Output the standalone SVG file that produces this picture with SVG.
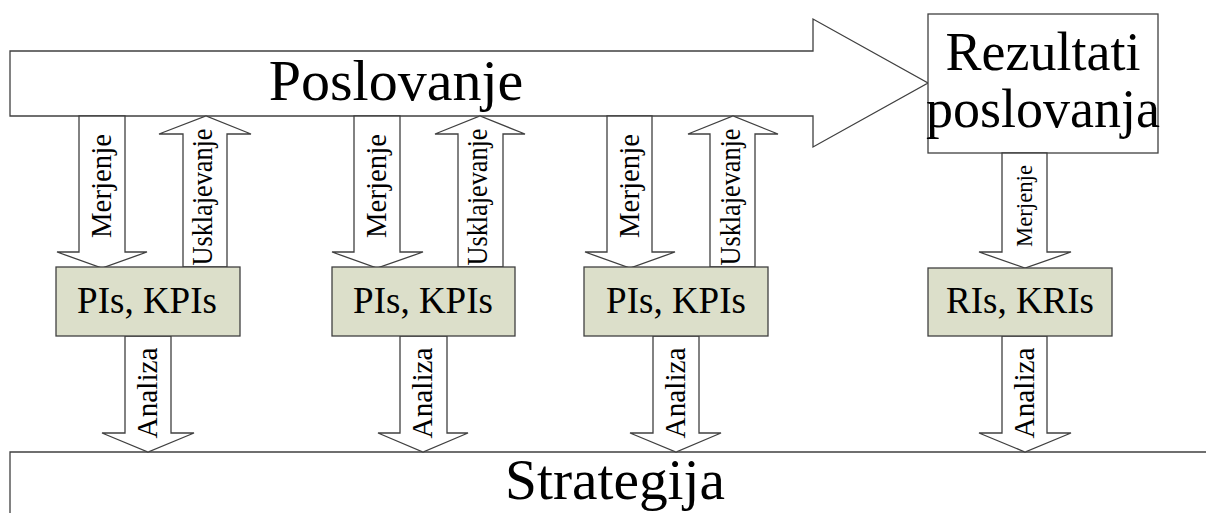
<svg xmlns="http://www.w3.org/2000/svg" width="1206" height="513" viewBox="0 0 1206 513">
<style>
.sh{fill:#fff;stroke:#404040;stroke-width:1.3;stroke-linejoin:miter}
.box{fill:#dcdfca;stroke:#404040;stroke-width:1.3}
.t{font-family:"Liberation Serif","Times New Roman",serif;fill:#000;text-anchor:middle}
</style>
<rect width="1206" height="513" fill="#fff"/>
<g id="strategija">
<path class="sh" d="M10,514 V452 H1210 V514"/>
<text class="t" x="615" y="499" font-size="56" textLength="220" lengthAdjust="spacingAndGlyphs">Strategija</text>
</g>
<g id="poslovanje">
<path class="sh" d="M10,51 H813 V19 L928,83 L813,147 V116 H10 Z"/>
<text class="t" x="396" y="100" font-size="58">Poslovanje</text>
</g>
<g id="rezultati">
<rect class="sh" x="928" y="14" width="230" height="139"/>
<text class="t" x="1043" y="70" font-size="54">Rezultati</text>
<text class="t" x="1043" y="127" font-size="54">poslovanja</text>
</g>
<g id="connectors">
<path class="sh" d="M79,116 V252 H57 L102,268 L147,252 H125 V116 Z"/>
<path class="sh" d="M183,267 V134 H159 L206,116 L251,134 H227 V267 Z"/>
<path class="sh" d="M354,116 V252 H332 L377,268 L423,252 H400 V116 Z"/>
<path class="sh" d="M458,267 V134 H435 L480,116 L525,134 H503 V267 Z"/>
<path class="sh" d="M607,116 V252 H585 L630,268 L675,252 H652 V116 Z"/>
<path class="sh" d="M710,267 V134 H688 L733,116 L778,134 H755 V267 Z"/>
<path class="sh" d="M1002,153 V252 H979 L1025,268 L1071,252 H1047 V153 Z"/>
<path class="sh" d="M125,336 V433 H102 L148,452 L194,433 H171 V336 Z"/>
<path class="sh" d="M400,336 V433 H378 L423,452 L468,433 H447 V336 Z"/>
<path class="sh" d="M653,336 V433 H630 L676,452 L721,433 H699 V336 Z"/>
<path class="sh" d="M1002,336 V433 H979 L1025,452 L1071,433 H1047 V336 Z"/>
<g class="t">
<text transform="translate(111,186) rotate(-90)" font-size="29" textLength="104" lengthAdjust="spacingAndGlyphs">Merjenje</text>
<text transform="translate(386,186) rotate(-90)" font-size="29" textLength="104" lengthAdjust="spacingAndGlyphs">Merjenje</text>
<text transform="translate(639,186) rotate(-90)" font-size="29" textLength="104" lengthAdjust="spacingAndGlyphs">Merjenje</text>
<text transform="translate(212,197) rotate(-90)" font-size="29" textLength="137" lengthAdjust="spacingAndGlyphs">Usklajevanje</text>
<text transform="translate(487,197) rotate(-90)" font-size="29" textLength="137" lengthAdjust="spacingAndGlyphs">Usklajevanje</text>
<text transform="translate(740,197) rotate(-90)" font-size="29" textLength="137" lengthAdjust="spacingAndGlyphs">Usklajevanje</text>
<text transform="translate(1032,206) rotate(-90)" font-size="23" textLength="82" lengthAdjust="spacingAndGlyphs">Merjenje</text>
<text transform="translate(157,393) rotate(-90)" font-size="30" textLength="91" lengthAdjust="spacingAndGlyphs">Analiza</text>
<text transform="translate(432,393) rotate(-90)" font-size="30" textLength="91" lengthAdjust="spacingAndGlyphs">Analiza</text>
<text transform="translate(685,393) rotate(-90)" font-size="30" textLength="91" lengthAdjust="spacingAndGlyphs">Analiza</text>
<text transform="translate(1034,393) rotate(-90)" font-size="30" textLength="91" lengthAdjust="spacingAndGlyphs">Analiza</text>
</g>
</g>
<g id="kpi1">
<rect class="box" x="56" y="267" width="184" height="69"/>
<text class="t" x="147" y="313" font-size="37">PIs, KPIs</text>
</g>
<g id="kpi2">
<rect class="box" x="332" y="267" width="183" height="69"/>
<text class="t" x="423" y="313" font-size="37">PIs, KPIs</text>
</g>
<g id="kpi3">
<rect class="box" x="584" y="267" width="184" height="69"/>
<text class="t" x="676" y="313" font-size="37">PIs, KPIs</text>
</g>
<g id="kri">
<rect class="box" x="928" y="268" width="184" height="68"/>
<text class="t" x="1020" y="313" font-size="37">RIs, KRIs</text>
</g>
</svg>
